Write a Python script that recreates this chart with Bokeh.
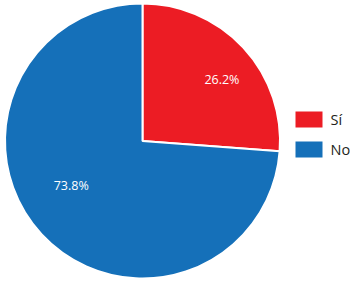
import math
from bokeh.plotting import figure
from bokeh.models import Range1d, ColumnDataSource
from bokeh.core.properties import value
from bokeh.embed import file_html
from bokeh.resources import INLINE

# Data
categories = ["Sí", "No"]
shares = [26.2, 73.8]
colors = ["#EC1C24", "#1570B9"]
labels = ["26.2%", "73.8%"]

W, H = 350, 281
p = figure(width=W, height=H, output_backend="svg", toolbar_location=None,
           x_range=Range1d(0, W), y_range=Range1d(0, H), min_border=0)
p.axis.visible = False
p.grid.visible = False
p.outline_line_color = None
p.background_fill_color = "white"

cx, cy, r = 142, 140.5, 137.5
total = sum(shares)
starts, ends = [], []
acc = 0.0
for s in shares:
    a0 = math.pi / 2 - 2 * math.pi * acc / total
    acc += s
    a1 = math.pi / 2 - 2 * math.pi * acc / total
    starts.append(a1)
    ends.append(a0)
src = ColumnDataSource(dict(start=starts, end=ends, color=colors,
                            x=[cx] * len(shares), y=[cy] * len(shares)))
p.wedge(x="x", y="y", radius=r, start_angle="start", end_angle="end",
        fill_color="color", line_color="white", line_width=2, source=src)

# label placement (angle in degrees, radius fraction)
label_ang = [37.7, 211.8]
label_rf = [0.73, 0.61]
lx = [cx + r * f * math.cos(math.radians(a)) for a, f in zip(label_ang, label_rf)]
ly = [cy + r * f * math.sin(math.radians(a)) for a, f in zip(label_ang, label_rf)]
p.text(x=lx, y=ly, text=labels, text_color="white", text_font=value("Open Sans"),
       text_font_size="12.5px", text_align="center", text_baseline="middle")

# legend
leg_x, leg_y0, leg_dy = 308.5, 162, 30
ry = [leg_y0 - i * leg_dy for i in range(len(categories))]
p.rect(x=[leg_x] * len(categories), y=ry, width=27, height=16,
       fill_color=colors, line_color=None)
p.text(x=[leg_x + 21.5] * len(categories), y=ry, text=categories,
       text_color="#231F20", text_font=value("Open Sans"), text_font_size="14.5px",
       text_align="left", text_baseline="middle")

open("out.html", "w").write(file_html(p, INLINE))
